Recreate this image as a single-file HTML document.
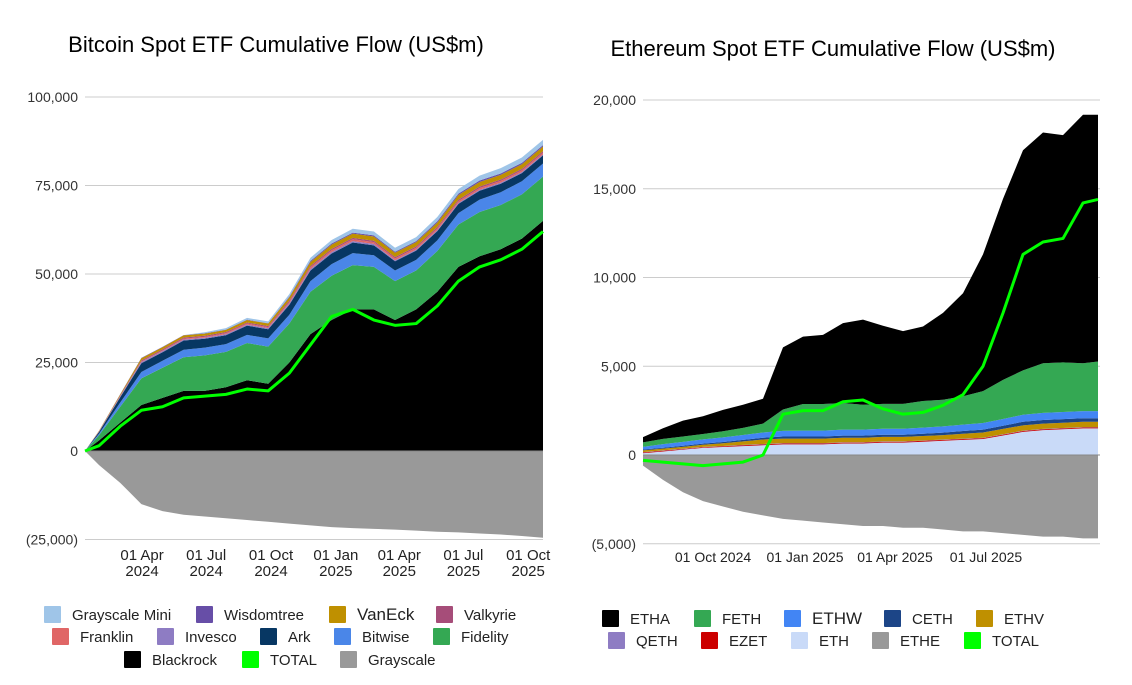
<!DOCTYPE html>
<html><head><meta charset="utf-8">
<style>
body{margin:0;background:#fff;width:1132px;height:685px;overflow:hidden;font-family:"Liberation Sans",sans-serif;}
svg{position:absolute;left:0;top:0}
text{font-family:"Liberation Sans",sans-serif;}
</style></head>
<body>
<svg id="chart" width="1132" height="685"></svg>
<script>
// ---- Bitcoin chart data (US$k ×1000 = US$m) ----
const btcDays=[0,20,50,80,110,140,170,200,230,260,290,320,350,380,410,440,470,500,530,560,590,620,650];
const btcBlackrock=[0,3,8,13,15,17,17,18,20,19,25,33,37,40,40,37,40,45,52,55,57,60,65];
const btcFidelity=[0,1.5,4.5,7.5,8.5,9.5,10,10,10.5,10.5,11,12,12.5,12.5,12,11,11,11.5,12,12.5,12.5,12.5,12.5];
const btcBitwise=[0,.4,1.2,1.8,2,2.1,2.2,2.2,2.3,2.3,2.5,3,3.3,3.4,3.3,3,3,3,3.2,3.5,3.6,3.7,3.7];
const btcArk=[0,.5,1.5,2.5,2.4,2.6,2.5,2.5,2.6,2.6,2.8,3,3,3,2.8,2.6,2.6,2.6,2.6,2.5,2.4,2.3,2.3];
const btcInvesco=[0,.1,.2,.3,.3,.3,.3,.3,.3,.3,.4,.4,.4,.4,.4,.3,.3,.3,.3,.3,.3,.3,.3];
const btcFranklin=[0,.05,.1,.2,.2,.25,.25,.3,.3,.3,.4,.5,.5,.5,.5,.5,.5,.5,.5,.5,.5,.5,.5];
const btcValkyrie=[0,.1,.2,.3,.3,.3,.3,.3,.3,.3,.4,.4,.4,.4,.4,.4,.4,.4,.4,.4,.4,.4,.4];
const btcVanEck=[0,.1,.3,.6,.6,.6,.6,.6,.7,.7,.9,1.1,1.2,1.2,1.2,1.2,1.2,1.2,1.3,1.3,1.3,1.3,1.3];
const btcWisdomtree=[0,.02,.05,.1,.1,.1,.1,.1,.1,.1,.2,.3,.3,.3,.3,.3,.3,.4,.4,.4,.4,.4,.4];
const btcGrayscaleMini=[0,0,0,0,0,0,.3,.4,.5,.5,.7,.9,1,1.1,1.1,1.1,1.1,1.2,1.3,1.4,1.5,1.5,1.5];
const btcGrayscale=[0,-4,-9,-15,-17,-18,-18.5,-19,-19.5,-20,-20.5,-21,-21.5,-21.8,-22,-22.2,-22.5,-22.8,-23,-23.3,-23.6,-24,-24.5];
const btcTotal=[0,1.5,7,11.5,12.5,15,15.5,16,17.5,17,22,30,38,40,37,35.5,36,41,48,52,54,57,62];
const btcYTicks=[100,75,50,25,0,-25];
const btcYLabels=["100,000","75,000","50,000","25,000","0","(25,000)"];
const btcXTickDays=[81,172,264,356,446,537,629];
const btcXLabels=[["01 Apr","2024"],["01 Jul","2024"],["01 Oct","2024"],["01 Jan","2025"],["01 Apr","2025"],["01 Jul","2025"],["01 Oct","2025"]];

// ---- Ethereum chart data (US$k) ----
const ethDays=[0,20,40,60,80,100,120,140,160,180,200,220,240,260,280,300,320,340,360,380,400,420,440,455];
const ethETH=[.1,.2,.3,.4,.45,.5,.55,.6,.6,.6,.65,.65,.7,.7,.75,.8,.85,.9,1.1,1.3,1.4,1.45,1.5,1.5];
const ethEZET=[.04,.04,.04,.04,.04,.05,.05,.05,.05,.05,.05,.05,.05,.05,.05,.05,.05,.05,.05,.05,.05,.05,.05,.05];
const ethQETH=[.02,.02,.02,.02,.02,.02,.02,.02,.02,.02,.02,.02,.02,.02,.02,.02,.02,.02,.02,.02,.02,.02,.02,.02];
const ethETHV=[.1,.1,.1,.12,.15,.2,.25,.25,.25,.25,.25,.25,.25,.25,.25,.25,.28,.3,.3,.3,.3,.3,.3,.3];
const ethCETH=[.05,.05,.06,.06,.07,.08,.1,.12,.12,.12,.12,.12,.12,.12,.13,.14,.15,.16,.18,.2,.2,.2,.2,.2];
const ethETHW=[.15,.2,.22,.24,.26,.28,.3,.32,.33,.33,.34,.34,.34,.34,.34,.35,.36,.37,.38,.4,.4,.4,.4,.4];
const ethFETH=[.25,.3,.3,.3,.35,.4,.5,1.2,1.5,1.5,1.5,1.4,1.4,1.4,1.5,1.5,1.6,1.8,2.2,2.5,2.8,2.8,2.7,2.8];
const ethETHA=[.3,.6,.9,1.0,1.2,1.3,1.4,3.5,3.8,3.9,4.5,4.8,4.4,4.1,4.2,4.9,5.8,7.7,10.2,12.4,13.0,12.8,14.0,13.9];
const ethETHE=[-.6,-1.4,-2.1,-2.6,-2.9,-3.2,-3.4,-3.6,-3.7,-3.8,-3.9,-4,-4,-4.1,-4.1,-4.2,-4.3,-4.3,-4.4,-4.5,-4.6,-4.6,-4.7,-4.7];
const ethTotal=[-.3,-.4,-.5,-.6,-.5,-.4,0,2.3,2.5,2.5,3,3.1,2.6,2.3,2.4,2.8,3.4,5,8,11.3,12,12.2,14.2,14.4];
const ethYTicks=[20,15,10,5,0,-5];
const ethYLabels=["20,000","15,000","10,000","5,000","0","(5,000)"];
const ethXTickDays=[70,162,252,343];
const ethXLabels=[["01 Oct 2024"],["01 Jan 2025"],["01 Apr 2025"],["01 Jul 2025"]];

const NS="http://www.w3.org/2000/svg";
const svg=document.getElementById('chart');
function mk(tag,attrs,parent){const e=document.createElementNS(NS,tag);for(const k in attrs)e.setAttribute(k,attrs[k]);(parent||svg).appendChild(e);return e;}

function drawChart(c){
  const g=mk('g',{});
  
  
  const x=d=>c.x0+(d-c.d0)*(c.x1-c.x0)/(c.d1-c.d0);
  const y=v=>c.yZero-v*c.yScale;
  const t=mk('text',{x:c.titleX,y:c.titleY,'font-size':22,'text-anchor':'middle',fill:'#000'},g);
  t.textContent=c.title;
  
  
  c.yTicks.forEach((v,i)=>{
    const gl=mk('line',{x1:c.x0,x2:c.x1,y1:y(v),y2:y(v),stroke:'#ccc','stroke-width':1},g);
    
    
    const tl=mk('text',{x:c.x0-7,y:y(v)+5,'font-size':14,'text-anchor':'end',fill:'#333'},g);
    tl.textContent=c.yLabels[i];
    
    
  });
  let p='M'+x(c.days[0])+','+y(0);
  c.days.forEach((d,i)=>{p+=' L'+x(d)+','+y(c.neg[i]);});
  p+=' L'+x(c.days[c.days.length-1])+','+y(0)+' Z';
  const na=mk('path',{d:p,fill:c.negColor},g);
  
  
  let base=c.days.map(()=>0);
  c.stack.forEach(s=>{
    const top=base.map((b,i)=>b+s.vals[i]);
    let d='M'+x(c.days[0])+','+y(base[0]);
    c.days.forEach((dd,i)=>{d+=' L'+x(dd)+','+y(top[i]);});
    for(let i=c.days.length-1;i>=0;i--)d+=' L'+x(c.days[i])+','+y(base[i]);
    d+=' Z';
    const a=mk('path',{d:d,fill:s.color},g);
    
    
    base=top;
  });
  const zl=mk('line',{x1:c.x0,x2:c.x1,y1:y(0),y2:y(0),stroke:'#888','stroke-width':1},g);
  
  
  const pts=c.days.map((d,i)=>x(d)+','+y(c.total[i])).join(' ');
  const tl=mk('polyline',{points:pts,fill:'none',stroke:'#00ff00','stroke-width':3,'stroke-linejoin':'round'},g);
  
  
  c.xTickDays.forEach((d,i)=>{
    c.xLabels[i].forEach((ln,j)=>{
      const xt=mk('text',{x:x(d),y:c.xLabelY+j*16,'font-size':c.xFont,'text-anchor':'middle',fill:'#222'},g);
      xt.textContent=ln;
      
      
    });
  });
  c.legend.forEach(L=>{
    const lg=mk('g',{},g);
    
    
    mk('rect',{x:L[2],y:L[3]-8,width:17,height:17,fill:L[1],rx:1},lg);
    const lt=mk('text',{x:L[2]+28,y:L[3]+6,'font-size':L[4]||15,fill:'#222'},lg);
    lt.textContent=L[0];
  });
}

drawChart({name:'bitcoin-chart',title:'Bitcoin Spot ETF Cumulative Flow (US$m)',titleX:276,titleY:52,
  x0:85,x1:543,d0:0,d1:650,yZero:451,yScale:3.54,days:btcDays,xFont:15,
  yTicks:btcYTicks,yLabels:btcYLabels,xTickDays:btcXTickDays,xLabels:btcXLabels,xLabelY:560,
  neg:btcGrayscale,negColor:'#999999',negName:'grayscale',total:btcTotal,
  stack:[{name:'blackrock',vals:btcBlackrock,color:'#000000'},{name:'fidelity',vals:btcFidelity,color:'#34a853'},
    {name:'bitwise',vals:btcBitwise,color:'#4a86e8'},{name:'ark',vals:btcArk,color:'#073763'},
    {name:'invesco',vals:btcInvesco,color:'#8e7cc3'},{name:'franklin',vals:btcFranklin,color:'#e06666'},
    {name:'valkyrie',vals:btcValkyrie,color:'#a64d79'},{name:'vaneck',vals:btcVanEck,color:'#bf9000'},
    {name:'wisdomtree',vals:btcWisdomtree,color:'#674ea7'},{name:'grayscale-mini',vals:btcGrayscaleMini,color:'#9fc5e8'}],
  legend:[['Grayscale Mini','#9fc5e8',44,614],['Wisdomtree','#674ea7',196,614],['VanEck','#bf9000',329,614,17],['Valkyrie','#a64d79',436,614],
    ['Franklin','#e06666',52,636],['Invesco','#8e7cc3',157,636],['Ark','#073763',260,636],['Bitwise','#4a86e8',334,636],['Fidelity','#34a853',433,636],
    ['Blackrock','#000000',124,659],['TOTAL','#00ff00',242,659],['Grayscale','#999999',340,659]]
});

drawChart({name:'ethereum-chart',title:'Ethereum Spot ETF Cumulative Flow (US$m)',titleX:833,titleY:56,
  x0:643,x1:1100,d0:0,d1:457,yZero:455,yScale:17.75,days:ethDays,xFont:14,
  yTicks:ethYTicks,yLabels:ethYLabels,xTickDays:ethXTickDays,xLabels:ethXLabels,xLabelY:562,
  neg:ethETHE,negColor:'#999999',negName:'ethe',total:ethTotal,
  stack:[{name:'eth',vals:ethETH,color:'#c9daf8'},{name:'ezet',vals:ethEZET,color:'#cc0000'},
    {name:'qeth',vals:ethQETH,color:'#8e7cc3'},{name:'ethv',vals:ethETHV,color:'#bf9000'},
    {name:'ceth',vals:ethCETH,color:'#1c4587'},{name:'ethw',vals:ethETHW,color:'#4285f4'},
    {name:'feth',vals:ethFETH,color:'#34a853'},{name:'etha',vals:ethETHA,color:'#000000'}],
  legend:[['ETHA','#000000',602,618],['FETH','#34a853',694,618],['ETHW','#4285f4',784,618,17],['CETH','#1c4587',884,618],['ETHV','#bf9000',976,618],
    ['QETH','#8e7cc3',608,640],['EZET','#cc0000',701,640],['ETH','#c9daf8',791,640],['ETHE','#999999',872,640],['TOTAL','#00ff00',964,640]]
});
</script>
</body></html>
